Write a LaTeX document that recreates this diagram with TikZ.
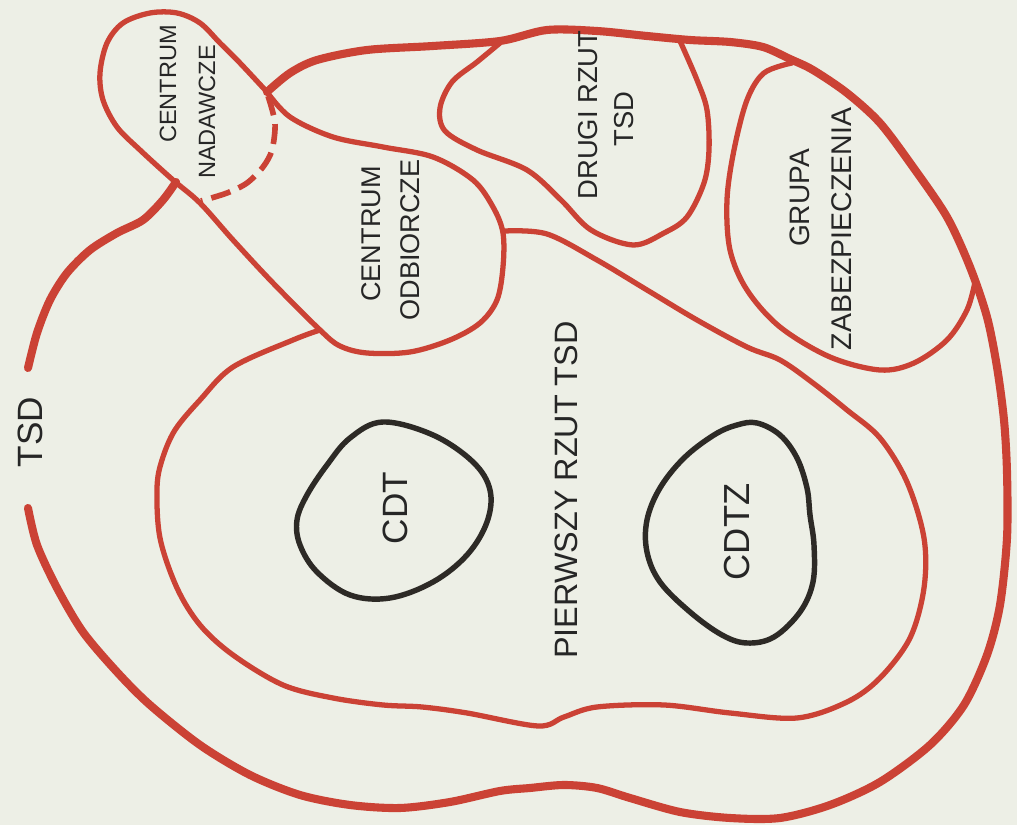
\documentclass[tikz,border=0pt]{standalone}
\usepackage{fontspec}
\setmainfont{Liberation Sans}
\definecolor{inkred}{RGB}{203,66,53}
\definecolor{inkblack}{RGB}{45,42,38}
\definecolor{paper}{RGB}{237,239,230}
\newcommand{\fs}[1]{\fontsize{#1}{#1}\selectfont}

\begin{document}
\begin{tikzpicture}[x=0.01cm, y=-0.01cm,
  redline/.style={draw=inkred, line width=1.5pt, line join=round, line cap=round},
  outerline/.style={draw=inkred, line width=2.3pt, line join=round, line cap=round},
  blackline/.style={draw=inkblack, line width=1.55pt},
  lbl/.style={text=black!85, rotate=90, inner sep=0pt}]
\fill[paper] (0,0) rectangle (1017,825);
\useasboundingbox (0,0) rectangle (1017,825);

% outer TSD line
\draw[outerline] plot[smooth, tension=0.5] coordinates {(267,92) (290,73) (317,60) (367,50) (433,46) (500,41) (547,30) (597,31) (647,36) (690,40) (730,42) (763,47) (790,59) (813,70) (847,93) (880,123) (913,167) (947,217) (970,267) (987,317) (997,367) (1004,420) (1007,472) (1007,538) (1000,605) (987,655) (964,705) (930,745) (880,782) (830,805) (780,818) (730,818) (680,812) (630,798) (597,788) (564,785) (530,788) (500,791) (450,802) (400,808) (350,805) (300,795) (250,775) (200,745) (150,705) (117,672) (83,632) (57,588) (37,545) (28,508)};
\draw[outerline] plot[smooth, tension=0.5] coordinates {(28,368) (37,333) (50,300) (67,273) (90,250) (117,233) (143,220) (163,200) (176,182)};

% centrum odbiorcze + nadawcze
\draw[redline] plot[smooth, tension=0.55] coordinates {(267,92) (290,117) (333,137) (383,147) (433,157) (473,180) (493,207) (503,233) (503,267) (497,300) (480,323) (450,340) (410,352) (367,353) (340,346) (320,330) (273,283) (233,240) (200,203) (173,180) (140,150) (117,127) (103,100) (100,73) (107,43) (123,23) (150,13) (177,13) (200,23) (220,43) (240,63) (267,92)};
\draw[redline, line width=1.6pt, line cap=butt, dash pattern=on 0.2cm off 0.09cm] plot[smooth] coordinates {(268,96) (275,123) (272,150) (263,167) (247,183) (227,193) (201,201)};

% drugi rzut
\draw[redline] plot[smooth, tension=0.55] coordinates {(500,43) (477,62) (452,82) (440,108) (445,131) (477,150) (527,170) (561,200) (591,230) (633,245) (664,233) (687,217) (704,183) (709,150) (707,110) (697,80) (680,41)};

% grupa zabezpieczenia
\draw[redline] plot[smooth, tension=0.55] coordinates {(792,63) (764,73) (747,100) (734,150) (727,200) (730,250) (747,290) (780,327) (830,357) (880,370) (914,363) (947,340) (967,310) (975,282)};

% pierwszy rzut
\draw[redline] plot[smooth, tension=0.55] coordinates {(320,330) (293,340) (233,367) (200,400) (175,430) (162,460) (157,488) (160,538) (177,588) (200,625) (233,655) (283,685) (333,698) (383,705) (422,707) (467,713) (538,726) (564,717) (597,707) (664,705) (730,713) (797,718) (847,702) (880,678) (910,638) (924,588) (924,538) (907,482) (880,438) (847,410) (813,383) (780,360) (747,347) (697,320) (647,290) (597,260) (547,234) (505,231)};

% CDT, CDTZ
\draw[blackline] plot[smooth cycle, tension=0.6] coordinates {(383,422) (433,435) (473,462) (490,490) (487,522) (467,555) (433,582) (390,598) (350,595) (317,572) (300,545) (297,520) (307,495) (327,465) (350,438)};
\draw[blackline] plot[smooth cycle, tension=0.6] coordinates {(757,423) (780,435) (797,458) (807,488) (810,515) (814,545) (813,582) (800,612) (774,637) (747,643) (722,635) (690,612) (660,582) (647,552) (647,520) (660,488) (684,458) (714,435) (737,425)};

% labels
\node[lbl, font=\fs{10}] (tsd) at (30,432) {TSD};
\node[lbl, font=\fs{6.7}] (centrumN) at (168,84) {CENTRUM};
\node[lbl, font=\fs{6.7}] (nadawcze) at (207,112) {NADAWCZE};
\node[lbl, font=\fs{7.7}] (centrumO) at (371,234) {CENTRUM};
\node[lbl, font=\fs{7.7}] (odbiorcze) at (410,240) {ODBIORCZE};
\node[lbl, font=\fs{7.8}] (drugi) at (588,115) {DRUGI RZUT};
\node[lbl, font=\fs{7.8}] (drugitsd) at (624,119) {TSD};
\node[lbl, font=\fs{8}] (grupa) at (800,198) {GRUPA};
\node[lbl, font=\fs{8.1}] (zabezp) at (842,229) {ZABEZPIECZENIA};
\node[lbl, font=\fs{9.2}] (pierwszy) at (566,490) {PIERWSZY RZUT TSD};
\node[lbl, font=\fs{10}] (cdt) at (395,508) {CDT};
\node[lbl, font=\fs{10.3}] (cdtz) at (737,532) {CDTZ};
\end{tikzpicture}
\end{document}
